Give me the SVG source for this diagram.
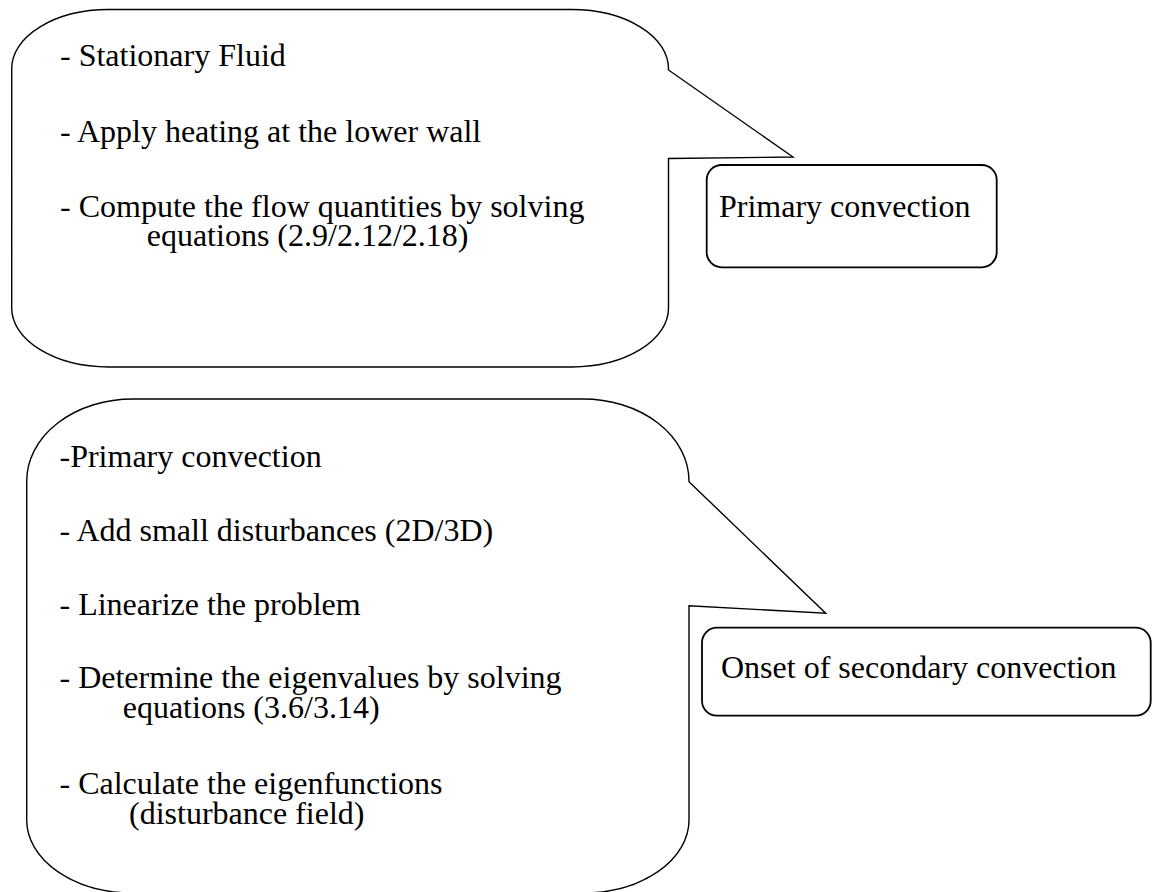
<svg xmlns="http://www.w3.org/2000/svg" width="1152" height="892" viewBox="0 0 1152 892">
<style>
.callout{fill:#fff;stroke:#000;stroke-width:1.4;stroke-linejoin:miter}
.box{fill:#fff;stroke:#000;stroke-width:1.8}
text{font-family:"Liberation Serif","Times New Roman",serif;font-size:32px;fill:#000}
</style>
<rect x="0" y="0" width="1152" height="892" fill="#fff"/>
<g id="callout-stationary">
<path class="callout" d="M 108.7 9.5 H 571.5 A 97 59 0 0 1 668.5 68.5 L 668.5 70 L 793 157 L 668.5 158.5 V 308 A 97 59 0 0 1 571.5 367 H 108.7 A 97 59 0 0 1 11.7 308 V 68.5 A 97 59 0 0 1 108.7 9.5 Z"/>
<text x="60" y="66">- Stationary Fluid</text>
<text x="60" y="142">- Apply heating at the lower wall</text>
<text x="60" y="217">- Compute the flow quantities by solving<tspan x="146.7" dy="29">equations (2.9/2.12/2.18)</tspan></text>
</g>
<g id="node-primary">
<rect class="box" x="706.7" y="165" width="290" height="102.3" rx="15" ry="15"/>
<text x="719" y="216.7">Primary convection</text>
</g>
<g id="callout-linear">
<path class="callout" d="M 132.7 399 H 583 A 106 82 0 0 1 689 481 L 689 481.7 L 825.7 613.3 L 689 605.7 V 820 A 106 73 0 0 1 583 893 H 132.7 A 106 73 0 0 1 26.7 820 V 481 A 106 82 0 0 1 132.7 399 Z"/>
<text x="59.5" y="467">-Primary convection</text>
<text x="59.5" y="541">- Add small disturbances (2D/3D)</text>
<text x="59.5" y="615">- Linearize the problem</text>
<text x="59.5" y="688">- Determine the eigenvalues by solving<tspan x="122.7" dy="30">equations (3.6/3.14)</tspan></text>
<text x="59.5" y="794">- Calculate the eigenfunctions<tspan x="129" dy="30">(disturbance field)</tspan></text>
</g>
<g id="node-onset">
<rect class="box" x="702" y="627.7" width="448.7" height="88" rx="15" ry="15"/>
<text x="721" y="678">Onset of secondary convection</text>
</g>
<g id="connectors"/>
</svg>
